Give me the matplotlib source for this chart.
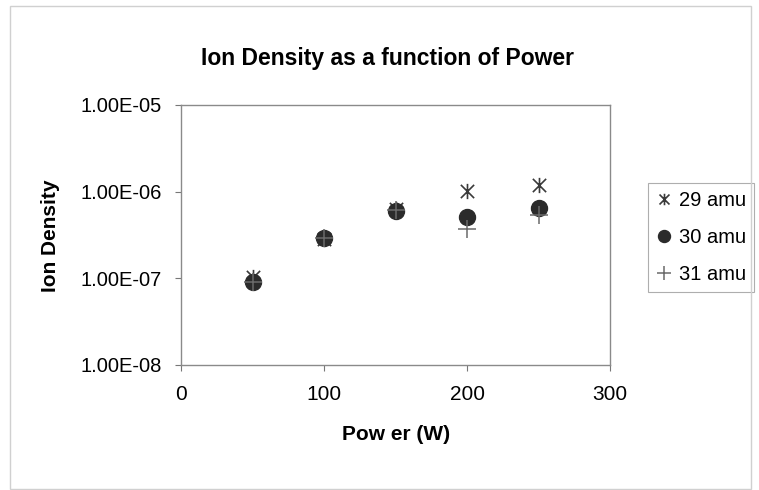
import matplotlib
matplotlib.use("Agg")
import matplotlib.pyplot as plt
from matplotlib.path import Path
from matplotlib.patches import Rectangle

plt.rcParams['font.family'] = ['Liberation Sans', 'DejaVu Sans']

power = [50, 100, 150, 200, 250]
amu29 = [1.02e-7, 2.85e-7, 6.2e-7, 1.02e-6, 1.18e-6]
amu30 = [8.9e-8, 2.9e-7, 6.0e-7, 5.1e-7, 6.4e-7]
amu31 = [9.0e-8, 2.9e-7, 6.1e-7, 3.7e-7, 5.4e-7]
series_labels = ['29 amu', '30 amu', '31 amu']
y_ticks = [1e-8, 1e-7, 1e-6, 1e-5]
y_tick_labels = ['1.00E-08', '1.00E-07', '1.00E-06', '1.00E-05']
x_ticks = [0, 100, 200, 300]

# Excel-style star: an X crossed by a vertical stroke
star = Path(
    [(-1, -1), (1, 1), (-1, 1), (1, -1), (0, -1.15), (0, 1.15)],
    [Path.MOVETO, Path.LINETO, Path.MOVETO, Path.LINETO, Path.MOVETO, Path.LINETO],
)

W, H = 759, 490
fig = plt.figure(figsize=(W / 100, H / 100), dpi=100)
fig.patch.set_facecolor('white')
fig.patches.append(Rectangle((10 / W, 0.002), 0.99 - 10 / W, 1 - 6 / H - 0.002,
                             transform=fig.transFigure, fill=False,
                             edgecolor='#d0d0d0', linewidth=1.0))

ax = fig.add_axes([181 / W, 1 - 364.5 / H, 429 / W, 259.5 / H])
ax.set_yscale('log')

ax.plot(power, amu29, linestyle='none', marker=star, markersize=11,
        markeredgewidth=1.2, color='#3a3a3a', label=series_labels[0], zorder=3)
ax.plot(power, amu30, linestyle='none', marker='o', markersize=11.5,
        color='#2b2b2b', markeredgecolor='#2b2b2b', label=series_labels[1], zorder=4)
ax.plot(power, amu31, linestyle='none', marker='+', markersize=13,
        markeredgewidth=1.1, color='#6a6a6a', label=series_labels[2], zorder=5)

ax.set_xlim(0, 300)
ax.set_ylim(1e-8, 1e-5)
ax.set_xticks(x_ticks)
ax.set_xticklabels([str(v) for v in x_ticks], fontsize=15)
ax.set_yticks(y_ticks)
ax.set_yticklabels(y_tick_labels, fontsize=14.5)
ax.yaxis.set_minor_locator(matplotlib.ticker.NullLocator())
ax.tick_params(axis='both', direction='out', length=4, width=0.8, color='#777777')
ax.tick_params(axis='x', pad=11)
ax.tick_params(axis='y', pad=10)
for s in ax.spines.values():
    s.set_color('#8a8a8a')
    s.set_linewidth(1.0)

fig.text(396 / W, 1 - 434 / H, 'Pow er (W)', ha='center', va='center',
         fontsize=15, fontweight='bold')
fig.text(50 / W, 1 - 236 / H, 'Ion Density', ha='center', va='center',
         rotation=90, fontsize=15, fontweight='bold')
fig.text(387.5 / W, 1 - 65 / H, 'Ion Density as a function of Power',
         ha='center', va='baseline', fontsize=16.5, fontweight='bold')

leg = ax.legend(loc='upper left', bbox_to_anchor=(648 / W, 1 - 183 / H),
                bbox_transform=fig.transFigure, fontsize=14.5, frameon=True,
                fancybox=False, edgecolor='#9a9a9a', handlelength=0.7,
                handletextpad=0.4, borderpad=0.42, labelspacing=0.88,
                markerscale=0.75, borderaxespad=0)
leg.get_frame().set_linewidth(0.8)

fig.savefig('out.png', dpi=100, facecolor='white')
